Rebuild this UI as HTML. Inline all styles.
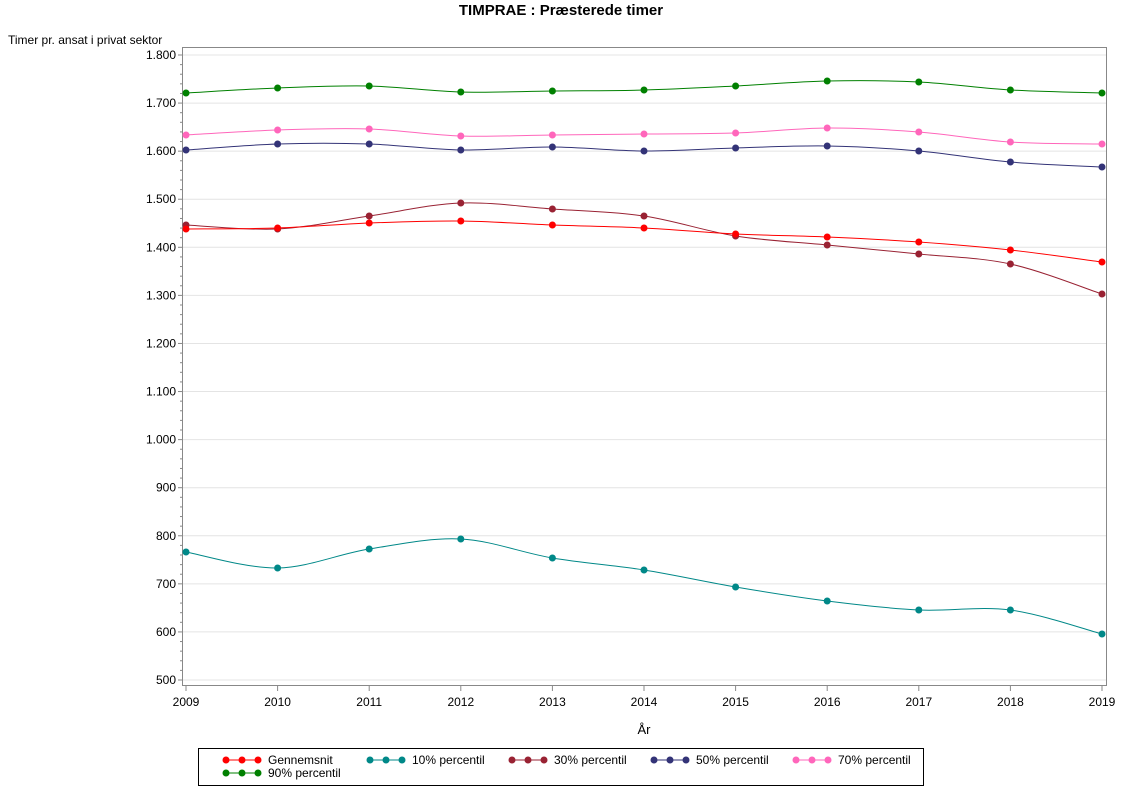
<!DOCTYPE html>
<html><head><meta charset="utf-8"><style>
body{margin:0;background:#fff;font-family:"Liberation Sans",sans-serif}
</style></head><body>
<svg width="1122" height="793" xmlns="http://www.w3.org/2000/svg" font-family="Liberation Sans, sans-serif">
<rect width="1122" height="793" fill="#fff"/>
<text x="561" y="15" text-anchor="middle" font-size="15" font-weight="bold">TIMPRAE : Præsterede timer</text>
<text x="8" y="44" font-size="12">Timer pr. ansat i privat sektor</text>
<g id="grid" stroke="#e4e4e4" stroke-width="1"></g>
<rect x="182.5" y="47.5" width="924" height="638" fill="none" stroke="#888"/>
<g id="yt" font-size="12" text-anchor="end"></g>
<g id="xt" font-size="12" text-anchor="middle"></g>
<text x="644" y="734" font-size="13" text-anchor="middle">År</text>
<g id="series"></g>
<rect x="198.5" y="748.5" width="725" height="37" fill="#fff" stroke="#000"/>
<g id="leg" font-size="12"></g>
</svg>
<script>
const ns="http://www.w3.org/2000/svg";
function el(p,t,a,txt){const e=document.createElementNS(ns,t);for(const k in a)e.setAttribute(k,a[k]);if(txt!==undefined)e.textContent=txt;document.getElementById(p).appendChild(e);return e;}
const Y=v=>680-(v-500)*0.48077;
for(let v=500;v<=1800;v+=100){const y=Y(v);el('grid','line',{x1:183,x2:1106,y1:y,y2:y});
el('yt','line',{x1:178,x2:182,y1:y,y2:y,stroke:'#888'});
el('yt','text',{x:176,y:y+4},v>=1000?Math.floor(v/1000)+'.'+String(v%1000).padStart(3,'0'):String(v));}
for(let v=500;v<1800;v+=20){if(v%100){const y=Y(v);el('yt','line',{x1:180,x2:182,y1:y,y2:y,stroke:'#888'});}}
const X=i=>186+i*91.6;
for(let i=0;i<=10;i++){el('xt','line',{x1:X(i),x2:X(i),y1:686,y2:691,stroke:'#888'});el('xt','text',{x:X(i),y:706},2009+i);}
const S=[
['#008000',[93,88,86,92,91,90,86,81,82,90,93]],
['#ff66bb',[135,130,129,136,135,134,133,128,132,142,144]],
['#333377',[150,144,144,150,147,151,148,146,151,162,167]],
['#992233',[225,229,216,203,209,216,236,245,254,264,294]],
['#ff0000',[229,228,223,221,225,228,234,237,242,250,262]],
['#008888',[552,568,549,539,558,570,587,601,610,610,634]]];
for(const [c,ys] of S){
 const p=ys.map((y,i)=>[X(i),y]);let d='M'+p[0];
 for(let i=0;i<p.length-1;i++){const p0=p[Math.max(0,i-1)],p1=p[i],p2=p[i+1],p3=p[Math.min(p.length-1,i+2)];
 d+=` C${p1[0]+(p2[0]-p0[0])/6},${p1[1]+(p2[1]-p0[1])/6} ${p2[0]-(p3[0]-p1[0])/6},${p2[1]-(p3[1]-p1[1])/6} ${p2[0]},${p2[1]}`;}
 el('series','path',{d,fill:'none',stroke:c,'stroke-width':1});
 p.forEach(q=>el('series','circle',{cx:q[0],cy:q[1],r:3.5,fill:c}));
}
const L=[['#ff0000','Gennemsnit',226,760],['#008888','10% percentil',370,760],['#992233','30% percentil',512,760],['#333377','50% percentil',654,760],['#ff66bb','70% percentil',796,760],['#008000','90% percentil',226,773]];
for(const [c,t,x,y] of L){el('leg','line',{x1:x,x2:x+32,y1:y,y2:y,stroke:c});
[0,16,32].forEach(o=>el('leg','circle',{cx:x+o,cy:y,r:3.5,fill:c}));
el('leg','text',{x:x+42,y:y+4},t);}
</script>
</body></html>
